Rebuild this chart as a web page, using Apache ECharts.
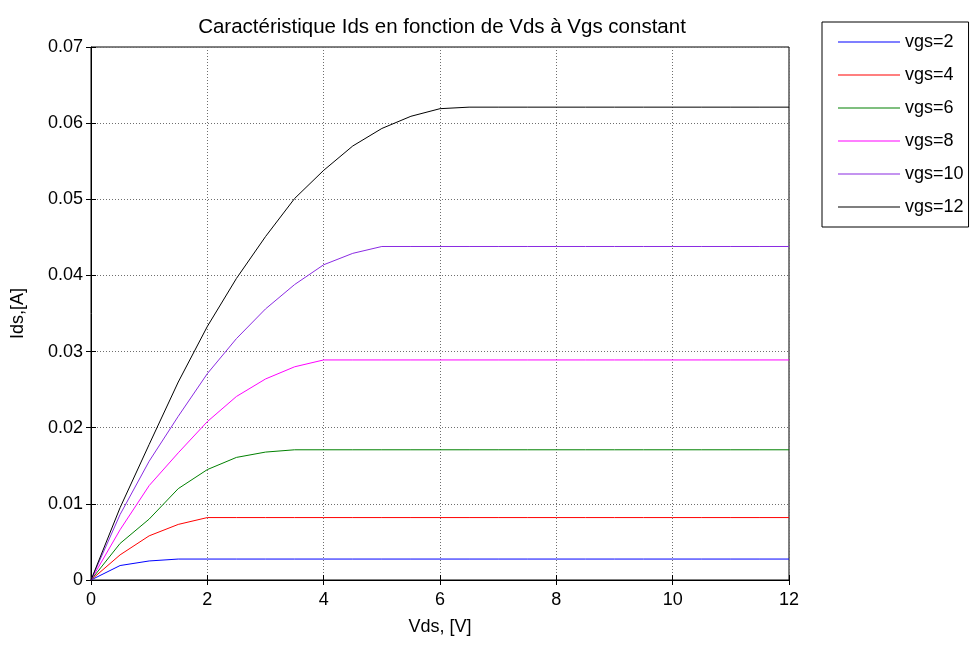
<!DOCTYPE html>
<html>
<head>
<meta charset="utf-8">
<script src="https://cdn.jsdelivr.net/npm/echarts@6/dist/echarts.min.js"></script>
<style>
  html, body { margin: 0; padding: 0; background: #fff; }
  #chart { width: 972px; height: 646px; }
</style>
</head>
<body>
<div id="chart"></div>
<script>
// Drain voltage samples (V)
const vds = [0, 0.5, 1, 1.5, 2, 2.5, 3, 3.5, 4, 4.5, 5, 5.5, 6, 6.5, 7, 7.5, 8, 8.5, 9, 9.5, 10, 10.5, 11, 11.5, 12];

// Drain current (A) for each gate voltage
const vgs2  = [0, 0.0019, 0.0025, 0.00275, 0.00275, 0.00275, 0.00275, 0.00275, 0.00275, 0.00275, 0.00275, 0.00275, 0.00275, 0.00275, 0.00275, 0.00275, 0.00275, 0.00275, 0.00275, 0.00275, 0.00275, 0.00275, 0.00275, 0.00275, 0.00275];
const vgs4  = [0, 0.0033, 0.0058, 0.0073, 0.0082, 0.0082, 0.0082, 0.0082, 0.0082, 0.0082, 0.0082, 0.0082, 0.0082, 0.0082, 0.0082, 0.0082, 0.0082, 0.0082, 0.0082, 0.0082, 0.0082, 0.0082, 0.0082, 0.0082, 0.0082];
const vgs6  = [0, 0.0048, 0.0080, 0.0120, 0.0145, 0.0161, 0.0168, 0.0171, 0.0171, 0.0171, 0.0171, 0.0171, 0.0171, 0.0171, 0.0171, 0.0171, 0.0171, 0.0171, 0.0171, 0.0171, 0.0171, 0.0171, 0.0171, 0.0171, 0.0171];
const vgs8  = [0, 0.0066, 0.0124, 0.0167, 0.0208, 0.0241, 0.0264, 0.0280, 0.0289, 0.0289, 0.0289, 0.0289, 0.0289, 0.0289, 0.0289, 0.0289, 0.0289, 0.0289, 0.0289, 0.0289, 0.0289, 0.0289, 0.0289, 0.0289, 0.0289];
const vgs10 = [0, 0.0086, 0.0156, 0.0215, 0.0271, 0.0317, 0.0356, 0.0388, 0.0414, 0.0429, 0.0438, 0.0438, 0.0438, 0.0438, 0.0438, 0.0438, 0.0438, 0.0438, 0.0438, 0.0438, 0.0438, 0.0438, 0.0438, 0.0438, 0.0438];
const vgs12 = [0, 0.0095, 0.0178, 0.0260, 0.0333, 0.0396, 0.0451, 0.0501, 0.0538, 0.0570, 0.0593, 0.0609, 0.0619, 0.0621, 0.0621, 0.0621, 0.0621, 0.0621, 0.0621, 0.0621, 0.0621, 0.0621, 0.0621, 0.0621, 0.0621];

const seriesNames = ['vgs=2', 'vgs=4', 'vgs=6', 'vgs=8', 'vgs=10', 'vgs=12'];
const seriesColors = ['#0000ff', '#ff0000', '#008000', '#ff00ff', '#8a2be2', '#000000'];
const seriesValues = [vgs2, vgs4, vgs6, vgs8, vgs10, vgs12];

const xTickLabels = ['0', '2', '4', '6', '8', '10', '12'];
const yTickLabels = ['0', '0.01', '0.02', '0.03', '0.04', '0.05', '0.06', '0.07'];

const FONT = 'Liberation Sans, Arial, sans-serif';

const chart = echarts.init(document.getElementById('chart'), null, { renderer: 'canvas' });

const gridLine = { show: true, lineStyle: { color: '#6e6e6e', type: [1, 2], width: 1 } };
const tickIn = { show: true, inside: true, length: 5, lineStyle: { color: '#000', width: 1 } };

chart.setOption({
  animation: false,
  backgroundColor: '#fff',
  title: {
    text: 'Caractéristique Ids en fonction de Vds à Vgs constant',
    left: 437,
    textAlign: 'center',
    top: 12,
    textStyle: { fontFamily: FONT, fontSize: 20.5, fontWeight: 'normal', color: '#000' }
  },
  legend: {
    orient: 'vertical',
    left: 822,
    top: 22,
    padding: [10, 5, 10, 16],
    itemGap: 13,
    itemWidth: 62,
    itemHeight: 1,
    icon: 'rect',
    borderColor: '#000',
    borderWidth: 1,
    backgroundColor: '#fff',
    selectedMode: false,
    textStyle: { fontFamily: FONT, fontSize: 18, color: '#000', lineHeight: 20 },
    data: seriesNames
  },
  grid: {
    left: 91, right: 183, top: 47, bottom: 66,
    show: true, borderColor: '#000', borderWidth: 1, backgroundColor: '#fff'
  },
  xAxis: [{
    type: 'value', min: 0, max: 12, interval: 2,
    name: 'Vds, [V]', nameLocation: 'middle', nameGap: 38,
    nameTextStyle: { fontFamily: FONT, fontSize: 18, color: '#000' },
    axisLine: { show: true, lineStyle: { color: '#000', width: 1 } },
    axisTick: tickIn,
    axisLabel: { fontFamily: FONT, fontSize: 18, color: '#000', margin: 11,
      formatter: (v, i) => xTickLabels[i] },
    splitLine: gridLine
  }, {
    type: 'value', min: 0, max: 12, interval: 2, position: 'top',
    axisLine: { show: false }, axisTick: tickIn, axisLabel: { show: false }, splitLine: { show: false }
  }],
  yAxis: [{
    type: 'value', min: 0, max: 0.07, interval: 0.01,
    name: 'Ids,[A]', nameLocation: 'middle', nameGap: 64, nameRotate: 90,
    nameTextStyle: { fontFamily: FONT, fontSize: 18, color: '#000' },
    axisLine: { show: true, lineStyle: { color: '#000', width: 1 } },
    axisTick: tickIn,
    axisLabel: { fontFamily: FONT, fontSize: 18, color: '#000', margin: 8,
      formatter: (v, i) => yTickLabels[i] },
    splitLine: gridLine
  }, {
    type: 'value', min: 0, max: 0.07, interval: 0.01, position: 'right',
    axisLine: { show: false }, axisTick: tickIn, axisLabel: { show: false }, splitLine: { show: false }
  }],
  series: seriesNames.map((name, k) => ({
    name,
    type: 'line',
    xAxisIndex: 0,
    yAxisIndex: 0,
    showSymbol: false,
    symbol: 'none',
    color: seriesColors[k],
    lineStyle: { width: 1, color: seriesColors[k] },
    data: vds.map((x, i) => [x, seriesValues[k][i]])
  }))
});
</script>
</body>
</html>
